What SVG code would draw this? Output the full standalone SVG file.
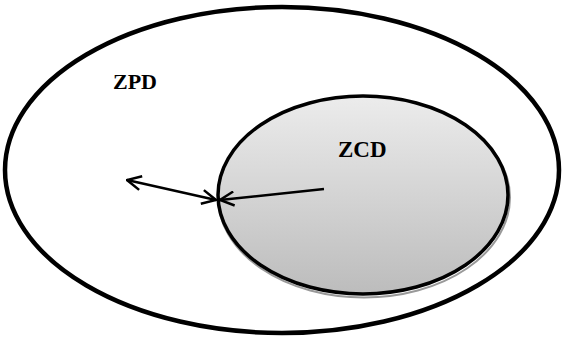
<svg xmlns="http://www.w3.org/2000/svg" width="564" height="338" viewBox="0 0 564 338">
<style>
.lbl{font-family:"Liberation Serif","Times New Roman",serif;font-weight:bold;fill:#000}
.ln{stroke:#000;stroke-width:2.5;fill:none}
</style>
<defs>
<linearGradient id="g" x1="0" y1="0" x2="0" y2="1">
<stop offset="0" stop-color="#ececec"/>
<stop offset="1" stop-color="#bcbcbc"/>
</linearGradient>
<marker id="ah" viewBox="0 0 16 16" refX="15" refY="8" markerWidth="16" markerHeight="16" markerUnits="userSpaceOnUse" orient="auto-start-reverse">
<path d="M1,1 L15,8 L1,15" fill="none" stroke="#000" stroke-width="2.5"/>
</marker>
</defs>
<rect width="564" height="338" fill="#fff"/>
<g id="zpd">
<ellipse cx="282" cy="170" rx="277" ry="163" fill="#fff" stroke="#000" stroke-width="4.5"/>
<text class="lbl" x="113" y="89" font-size="22">ZPD</text>
</g>
<g id="zcd">
<ellipse cx="364" cy="197.5" rx="146" ry="100" fill="#fff" stroke="#999" stroke-width="2"/>
<ellipse cx="363" cy="195" rx="145" ry="99" fill="url(#g)" stroke="#000" stroke-width="3.5"/>
<text class="lbl" x="338" y="157" font-size="23">ZCD</text>
</g>
<g id="connectors">
<line class="ln" x1="127" y1="180" x2="216" y2="200" marker-start="url(#ah)" marker-end="url(#ah)"/>
<line class="ln" x1="324" y1="189" x2="220" y2="200" marker-end="url(#ah)"/>
</g>
</svg>
